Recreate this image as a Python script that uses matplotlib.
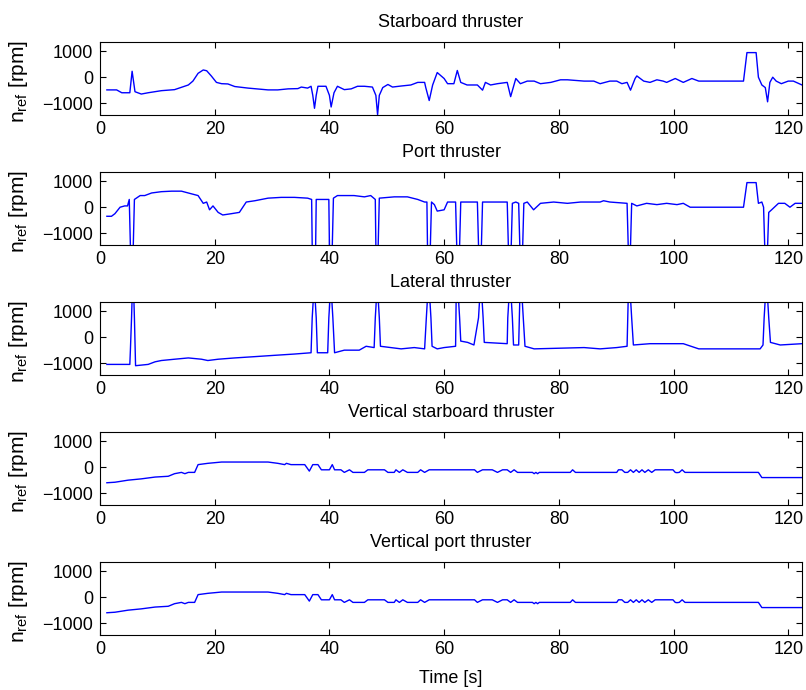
import matplotlib
matplotlib.use('Agg')
import matplotlib.pyplot as plt

plt.rcParams['font.family'] = ['Liberation Sans', 'DejaVu Sans']
plt.rcParams['mathtext.fontset'] = 'custom'
plt.rcParams['mathtext.rm'] = 'Liberation Sans'
plt.rcParams['mathtext.it'] = 'Liberation Sans'
plt.rcParams['font.size'] = 13

titles = ['Starboard thruster', 'Port thruster', 'Lateral thruster',
          'Vertical starboard thruster', 'Vertical port thruster']

# starboard thruster
stbd_t = [1.2, 2.9, 3.8, 5.2, 5.6, 6.1, 7.2, 8.4, 10.7, 13.0, 15.4, 16.2, 17.1, 18.0, 18.6,
          19.4, 20.3, 21.2, 22.3, 23.5, 25.8, 29.3, 31.0, 32.8, 34.5, 35.1, 36.2, 36.8, 37.1,
          37.4, 37.7, 38.0, 39.4, 40.0, 40.3, 40.8, 41.4, 42.6, 43.8, 44.9, 46.1, 47.5, 48.1,
          48.4, 48.7, 49.3, 50.2, 51.0, 52.5, 54.2, 55.4, 56.6, 56.8, 57.4, 58.0, 58.8, 60.0,
          60.6, 61.7, 62.3, 62.9, 64.0, 65.8, 66.7, 67.2, 68.1, 69.3, 71.0, 71.6, 72.5, 73.3,
          74.5, 75.7, 76.8, 78.6, 80.3, 81.5, 84.4, 86.1, 87.2, 88.9, 90.1, 91.0, 91.9, 92.5,
          93.3, 93.6, 94.8, 95.9, 97.1, 98.2, 98.8, 100.3, 101.7, 103.2, 104.4, 112.2, 112.8,
          114.4, 114.8, 115.4, 116.0, 116.4, 116.8, 117.3, 117.9, 118.8, 120.0, 120.9, 122.4]
stbd_n = [-490, -490, -600, -600, 230, -560, -650, -600, -520, -480, -300, -150, 150, 280, 250,
          50, -200, -250, -260, -360, -420, -490, -490, -450, -440, -380, -420, -350, -700,
          -1200, -700, -350, -350, -700, -1150, -600, -350, -480, -450, -350, -350, -380, -700,
          -1450, -700, -400, -280, -380, -340, -300, -200, -200, -400, -900, -300, 180, -50,
          -250, -250, 260, -200, -300, -300, -500, -200, -300, -250, -200, -750, -50, -250,
          -150, -150, -250, -200, -100, -100, -150, -150, -250, -150, -150, -250, -200, -500,
          -50, 50, -150, -200, -100, -150, -200, -50, -200, -50, -150, -150, 950,
          950, 0, -300, -400, -950, -200, 0, -150, -250, -150, -150, -300]

# port thruster
port_t = [1.2, 2.0, 2.6, 3.5, 4.3, 4.8, 5.1, 5.3, 5.8, 6.0, 7.0, 7.8, 9.0, 10.7, 12.5, 14.2,
          15.9, 17.1, 18.0, 18.6, 19.1, 19.7, 20.6, 21.4, 22.9, 24.3, 25.5, 27.0, 29.3, 31.6,
          33.9, 36.2, 36.9, 37.0, 37.6, 37.7, 39.9, 40.0, 40.5, 40.7, 41.4, 44.3, 46.1, 47.2,
          48.0, 48.1, 48.5, 48.7, 51.3, 53.6, 55.4, 56.6, 57.0, 57.1, 57.6, 57.8, 58.3, 58.8,
          60.0, 60.6, 62.0, 62.2, 62.7, 62.9, 65.8, 66.0, 66.5, 66.7, 71.0, 71.2, 71.7, 71.9,
          72.5, 73.0, 73.2, 73.7, 73.9, 74.5, 75.6, 76.8, 79.1, 81.5, 83.8, 87.2, 87.8, 88.9,
          91.9, 92.1, 92.5, 92.7, 93.6, 95.3, 97.1, 98.8, 100.6, 101.7, 102.9, 112.2, 112.8,
          114.4, 114.8, 115.4, 115.7, 115.9, 116.4, 116.6, 117.1, 118.3, 119.4, 120.3, 121.2,
          122.4]
port_n = [-350, -350, -250, 0, 50, 50, 300, -1500, -1500, 300, 450, 450, 550, 600, 620, 620,
          520, 450, 150, 200, -100, 50, -200, -300, -250, -200, 200, 250, 350, 380,
          380, 350, 300, -1500, -1500, 300, 300, -1500, -1500, 350, 450, 450, 400, 450,
          300, -1500, -1500, 350, 400, 400, 300, 200, 200, -1500, -1500, 200, 100, -150,
          -100, 200, 200, -1500, -1500, 200, 200, -1500, -1500, 200, 200, -1500, -1500, 150,
          200, 150, -1500, -1500, 150, 200, -100, 150, 200, 150, 200, 200, 250, 200,
          150, -1500, -1500, 150, 50, 150, 100, 150, 100, 150, 0, 0, 950,
          950, 150, 200, 0, -1500, -1500, -200, -100, 150, 150, 0, 150,
          150]

# lateral thruster
lat_t = [1.2, 5.2, 5.3, 5.5, 5.6, 5.9, 6.0, 6.2, 8.4, 9.6, 10.7, 13.0, 15.4, 17.7, 18.8, 20.6,
         23.5, 27.0, 30.4, 33.9, 36.8, 37.0, 37.2, 37.5, 37.7, 37.9, 39.7, 39.9, 40.1, 40.4,
         40.6, 40.9, 42.6, 45.2, 46.4, 47.8, 48.0, 48.2, 48.5, 48.7, 48.9, 50.7, 52.5, 54.8,
         56.6, 56.9, 57.1, 57.5, 57.7, 57.9, 58.8, 60.0, 62.0, 62.1, 62.5, 62.7, 62.9, 64.1,
         65.2, 66.0, 66.2, 66.6, 66.8, 67.0, 71.0, 71.1, 71.3, 71.7, 71.9, 72.1, 73.0, 73.2,
         73.6, 73.8, 74.1, 75.7, 84.4, 87.2, 90.1, 91.9, 92.1, 92.5, 92.7, 93.0, 95.9, 101.7,
         104.4, 115.1, 115.6, 115.8, 116.0, 116.4, 116.6, 116.9, 118.6, 122.4]
lat_n = [-1050, -1050, -500, 750, 1500, 1500, 750, -1100, -1050, -950, -900, -850, -800, -850,
         -900, -850, -800, -750, -700, -650, -600, 750, 1500, 1500, 750, -600, -600, 750, 1500,
         1500, 750, -600, -500, -500, -350, -400, 750, 1500, 1500, 750, -350, -400, -450, -400,
         -450, 750, 1500, 1500, 750, -350, -450, -400, -350, 1500, 1500, 750, -150, -200,
         -300, 750, 1500, 1500, 750, -200, -250, 750, 1500, 1500, 750, -300, -300, 1500,
         1500, 750, -350, -450, -400, -450, -400, -350, 1500, 1500, 750, -300, -250, -250,
         -450, -450, -300, 750, 1500, 1500, 750, -200, -300, -250]

# vertical starboard thruster
vstbd_t = [1.2, 2.6, 4.9, 7.2, 9.6, 11.9, 13.0, 14.2, 14.8, 15.4, 16.5, 17.1, 18.8, 21.2, 29.3,
           31.0, 32.2, 32.5, 33.3, 35.7, 36.5, 37.1, 38.0, 38.6, 40.0, 40.5, 40.9, 42.0, 42.6,
           43.5, 44.1, 46.1, 46.7, 49.6, 50.2, 51.3, 51.6, 52.2, 52.8, 53.6, 55.4, 55.9, 56.6,
           57.4, 65.3, 65.8, 66.7, 68.4, 69.3, 70.2, 71.0, 71.6, 72.2, 72.8, 75.4, 75.7, 76.0,
           76.3, 76.6, 82.0, 82.4, 82.9, 90.1, 90.4, 91.0, 91.5, 92.0, 92.5, 93.0, 93.5, 94.0,
           94.5, 95.0, 95.6, 96.2, 96.8, 97.8, 99.9, 100.3, 100.6, 101.0, 101.5, 102.0, 114.8,
           115.4, 122.4]
vstbd_n = [-600, -580, -500, -450, -380, -350, -250, -200, -250, -200, -200, 100, 150, 200, 200,
           150, 100, 150, 100, 100, -150, 100, 100, -100, -100, 100, -100, -100, -200,
           -100, -200, -200, -100, -100, -200, -200, -100, -200, -100, -200, -200, -100, -200,
           -100, -100, -200, -100, -100, -200, -100, -100, -200, -100, -200, -200, -250, -200,
           -250, -200, -200, -100, -200, -200, -100, -100, -200, -200, -100, -200, -100, -200,
           -100, -200, -100, -200, -100, -100, -100, -200, -210, -200, -100, -200, -200,
           -400, -400]

# vertical port thruster
vport_t = [1.2, 2.6, 4.9, 7.2, 9.6, 11.9, 13.0, 14.2, 14.8, 15.4, 16.5, 17.1, 18.8, 21.2, 29.3,
           31.0, 32.2, 32.5, 33.3, 35.7, 36.5, 37.1, 38.0, 38.6, 40.0, 40.5, 40.9, 42.0, 42.6,
           43.5, 44.1, 46.1, 46.7, 49.6, 50.2, 51.3, 51.6, 52.2, 52.8, 53.6, 55.4, 55.9, 56.6,
           57.4, 65.3, 65.8, 66.7, 68.4, 69.3, 70.2, 71.0, 71.6, 72.2, 72.8, 75.4, 75.7, 76.0,
           76.3, 76.6, 82.0, 82.4, 82.9, 90.1, 90.4, 91.0, 91.5, 92.0, 92.5, 93.0, 93.5, 94.0,
           94.5, 95.0, 95.6, 96.2, 96.8, 97.8, 99.9, 100.3, 100.6, 101.0, 101.5, 102.0, 114.8,
           115.4, 122.4]
vport_n = [-600, -580, -500, -450, -380, -350, -250, -200, -250, -200, -200, 100, 150, 200, 200,
           150, 100, 150, 100, 100, -150, 100, 100, -100, -100, 100, -100, -100, -200,
           -100, -200, -200, -100, -100, -200, -200, -100, -200, -100, -200, -200, -100, -200,
           -100, -100, -200, -100, -100, -200, -100, -100, -200, -100, -200, -200, -250, -200,
           -250, -200, -200, -100, -200, -200, -100, -100, -200, -200, -100, -200, -100, -200,
           -100, -200, -100, -200, -100, -100, -100, -200, -210, -200, -100, -200, -200,
           -400, -400]

series = [(stbd_t, stbd_n), (port_t, port_n), (lat_t, lat_n),
          (vstbd_t, vstbd_n), (vport_t, vport_n)]

W, H = 806, 690
fig = plt.figure(figsize=(W / 100, H / 100), dpi=100)

tops = [42, 172, 302, 432, 562]
ax_h = 72.5
left, right = 100, 802

for i, (t, n) in enumerate(series):
    ax = fig.add_axes([left / W, 1 - (tops[i] + ax_h) / H, (right - left) / W, ax_h / H])
    ax.plot(t, n, color='#0000ff', lw=1.0)
    ax.set_xlim(0.3, 122.4)
    ax.set_ylim(-1440, 1360)
    ax.set_xticks([0, 20, 40, 60, 80, 100, 120])
    ax.set_yticks([-1000, 0, 1000])
    ax.tick_params(direction='in', top=True, right=True, length=4, width=0.8,
                   labelsize=13, pad=5)
    ax.set_title(titles[i], fontsize=13, pad=11)
    ax.set_ylabel(r'n$_{\rm ref}$ [rpm]', fontsize=15)
    ax.yaxis.set_label_coords(-0.1, 0.45)
    for s in ax.spines.values():
        s.set_linewidth(0.8)
    if i == 4:
        ax.set_xlabel('Time [s]', fontsize=13, labelpad=8)

fig.savefig('out.png', dpi=100)
